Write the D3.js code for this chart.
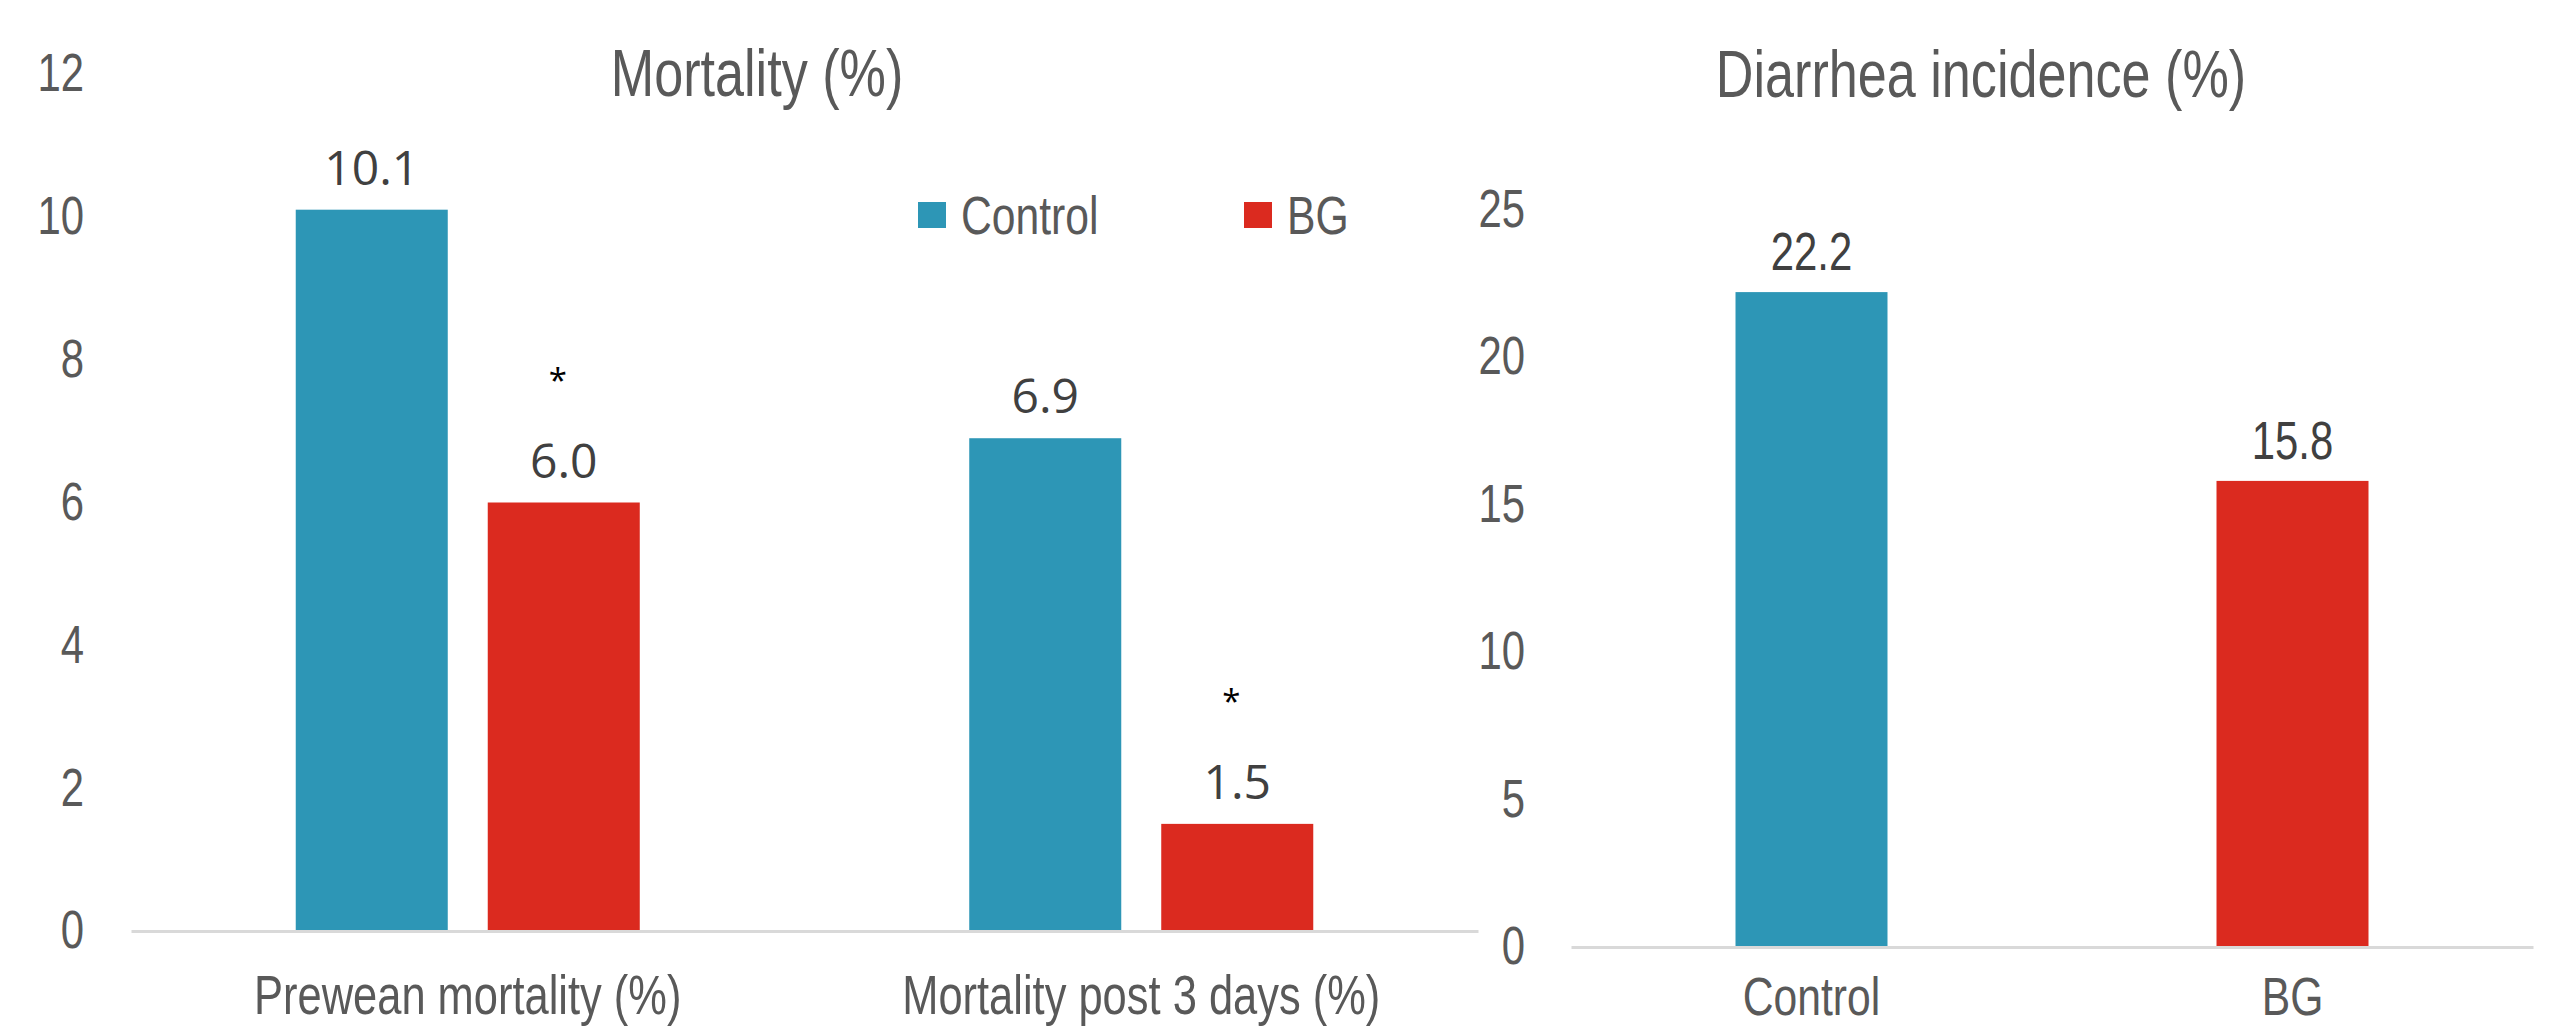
<!DOCTYPE html>
<html>
<head>
<meta charset="utf-8">
<title>Mortality and diarrhea incidence</title>
<script src="https://cdn.jsdelivr.net/npm/d3@7"></script>
<style>
  html, body { margin: 0; padding: 0; background: #ffffff; }
  svg { display: block; }
</style>
</head>
<body>
<svg id="chart" width="2565" height="1028"></svg>
<script>
// ---- data ----
const groups = ["Control", "BG"];
const mortalityCategories = ["Prewean mortality (%)", "Mortality post 3 days (%)"];
const mortalityControl = [10.1, 6.9];
const mortalityBG = [6.0, 1.5];
const mortalityBGSignificant = [true, true];
const mortalityTicks = [0, 2, 4, 6, 8, 10, 12];

const diarrheaCategories = ["Control", "BG"];
const diarrheaValues = [22.2, 15.8];
const diarrheaTicks = [0, 5, 10, 15, 20, 25];

// ---- styling ----
const colors = { Control: "#2D96B6", BG: "#DB2A1F" };
const axisGray = "#595959";
const labelGray = "#404040";
const ruleGray = "#D9D9D9";
const narrowFont = "'Liberation Sans', Arial, sans-serif";
const labelFont = "'Open Sans', 'Noto Sans', sans-serif";
const NARROW = 0.79;

const svg = d3.select("#chart");
svg.append("rect").attr("width", 2565).attr("height", 1028).attr("fill", "#fff");

// squeeze text horizontally to mimic a narrow typeface
function condense(sel, k) {
  sel.each(function () {
    const w = this.getComputedTextLength();
    this.setAttribute("textLength", w * k);
    this.setAttribute("lengthAdjust", "spacingAndGlyphs");
  });
}

function styleAxisText(g, size) {
  g.attr("font-family", null).attr("font-size", null);
  g.selectAll("text")
    .attr("font-family", narrowFont)
    .attr("font-size", size)
    .attr("fill", axisGray);
  condense(g.selectAll("text"), NARROW);
}

// ================= Mortality panel =================
const mort = { left: 131, right: 1478, top: 74, bottom: 931 };

const yM = d3.scaleLinear().domain([0, 12]).range([mort.bottom, mort.top]);
const x0M = d3.scaleBand().domain(mortalityCategories).range([mort.left, mort.right]).padding(0);
const x1M = d3.scaleBand().domain(groups).range([0, x0M.bandwidth()])
  .paddingInner(0.2083).paddingOuter(0.858);

const mortRows = mortalityCategories.map((c, i) => ({
  category: c,
  values: [
    { group: "Control", value: mortalityControl[i], sig: false },
    { group: "BG", value: mortalityBG[i], sig: mortalityBGSignificant[i] }
  ]
}));

// y axis (labels only)
const yAxisM = svg.append("g")
  .attr("transform", `translate(${mort.left},0)`)
  .call(d3.axisLeft(yM).tickValues(mortalityTicks).tickSize(0).tickPadding(47).tickFormat(d3.format("d")));
yAxisM.select(".domain").remove();
styleAxisText(yAxisM, 53);

// bars
const gM = svg.append("g");
const catG = gM.selectAll("g.cat").data(mortRows).join("g")
  .attr("class", "cat")
  .attr("transform", d => `translate(${x0M(d.category)},0)`);

catG.selectAll("rect").data(d => d.values).join("rect")
  .attr("x", d => x1M(d.group))
  .attr("y", d => yM(d.value))
  .attr("width", x1M.bandwidth())
  .attr("height", d => yM(0) - yM(d.value))
  .attr("fill", d => colors[d.group]);

catG.selectAll("text.val").data(d => d.values).join("text")
  .attr("class", "val")
  .attr("x", d => x1M(d.group) + x1M.bandwidth() / 2)
  .attr("y", d => yM(d.value) - 25)
  .attr("text-anchor", "middle")
  .attr("font-family", labelFont)
  .attr("font-size", 48)
  .attr("fill", labelGray)
  .text(d => d3.format(".1f")(d.value));

// significance markers above the BG values
catG.selectAll("text.sig").data(d => d.values.filter(v => v.sig)).join("text")
  .attr("class", "sig")
  .attr("x", d => x1M(d.group) + x1M.bandwidth() / 2 - 6)
  .attr("y", d => yM(d.value) - 25 - 34 - 52)
  .attr("text-anchor", "middle")
  .attr("font-family", labelFont)
  .attr("font-size", 33)
  .attr("fill", "#000")
  .text("*");

// category axis with baseline
const xAxisM = svg.append("g")
  .attr("transform", `translate(0,${mort.bottom})`)
  .call(d3.axisBottom(x0M).tickSize(0).tickSizeOuter(0).tickPadding(44));
xAxisM.select(".domain").attr("stroke", ruleGray).attr("stroke-width", 3);
styleAxisText(xAxisM, 55);

// title
const tM = svg.append("text")
  .attr("x", 757).attr("y", 96)
  .attr("text-anchor", "middle")
  .attr("font-family", narrowFont)
  .attr("font-size", 66)
  .attr("fill", axisGray)
  .text("Mortality (%)");
condense(tM, NARROW);

// legend
const legendX = { Control: 918, BG: 1244 };
const legend = svg.append("g").selectAll("g").data(groups).join("g")
  .attr("transform", d => `translate(${legendX[d]},202)`);
legend.append("rect").attr("width", 28).attr("height", 26).attr("fill", d => colors[d]);
const legendText = legend.append("text")
  .attr("x", 43).attr("y", 32)
  .attr("font-family", narrowFont)
  .attr("font-size", 54)
  .attr("fill", axisGray)
  .text(d => d);
condense(legendText, NARROW);

// ================= Diarrhea panel =================
const diar = { left: 1571, right: 2533, bottom: 947 };

const yD = d3.scaleLinear().domain([0, 25]).range([diar.bottom, 209.5]);
const xD = d3.scaleBand().domain(diarrheaCategories).range([diar.left, diar.right])
  .paddingInner(0.684).paddingOuter(0.342);

const yAxisD = svg.append("g")
  .attr("transform", `translate(${diar.left},0)`)
  .call(d3.axisLeft(yD).tickValues(diarrheaTicks).tickSize(0).tickPadding(46).tickFormat(d3.format("d")));
yAxisD.select(".domain").remove();
styleAxisText(yAxisD, 53);

const diarRows = diarrheaCategories.map((c, i) => ({ category: c, value: diarrheaValues[i] }));

svg.append("g").selectAll("rect").data(diarRows).join("rect")
  .attr("x", d => xD(d.category))
  .attr("y", d => yD(d.value))
  .attr("width", xD.bandwidth())
  .attr("height", d => yD(0) - yD(d.value))
  .attr("fill", d => colors[d.category]);

const diarLabels = svg.append("g").selectAll("text").data(diarRows).join("text")
  .attr("x", d => xD(d.category) + xD.bandwidth() / 2)
  .attr("y", d => yD(d.value) - 22)
  .attr("text-anchor", "middle")
  .attr("font-family", narrowFont)
  .attr("font-size", 53)
  .attr("fill", labelGray)
  .text(d => d3.format(".1f")(d.value));
condense(diarLabels, NARROW);

// category labels sit close to the bottom edge of the page
const xAxisD = svg.append("g")
  .attr("transform", `translate(0,${diar.bottom})`)
  .call(d3.axisBottom(xD).tickSize(0).tickSizeOuter(0).tickPadding(30));
xAxisD.select(".domain").attr("stroke", ruleGray).attr("stroke-width", 3);
styleAxisText(xAxisD, 54);

const tD = svg.append("text")
  .attr("x", 1981).attr("y", 97)
  .attr("text-anchor", "middle")
  .attr("font-family", narrowFont)
  .attr("font-size", 66)
  .attr("fill", axisGray)
  .text("Diarrhea incidence (%)");
condense(tD, NARROW);
</script>
</body>
</html>
